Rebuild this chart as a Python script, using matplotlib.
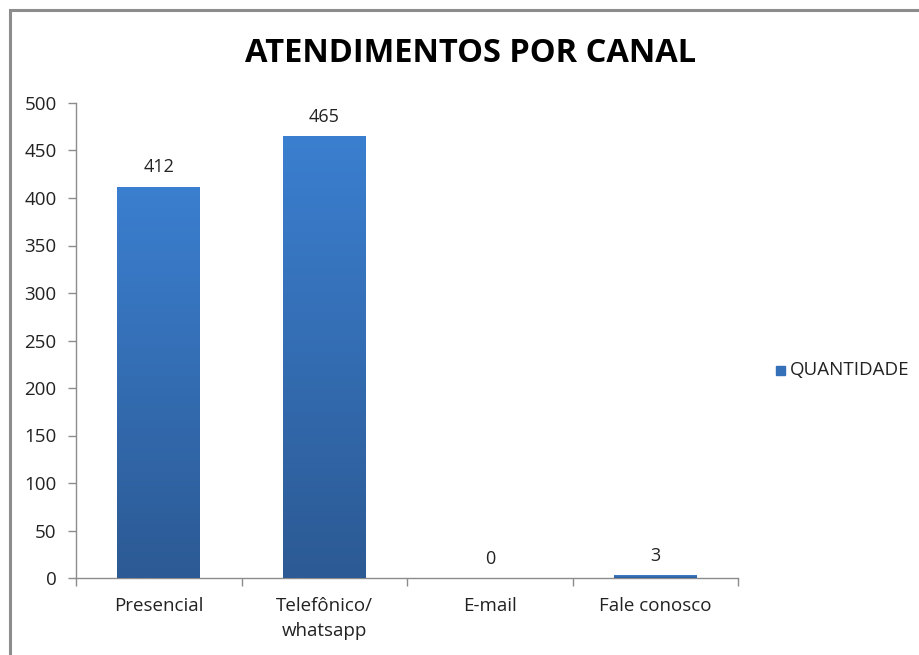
import numpy as np
import matplotlib.pyplot as plt
from matplotlib.colors import LinearSegmentedColormap
from matplotlib.patches import Rectangle

categorias = ["Presencial", "Telefônico/\nwhatsapp", "E-mail", "Fale conosco"]
quantidade = [412, 465, 0, 3]
yticks = [0, 50, 100, 150, 200, 250, 300, 350, 400, 450, 500]

plt.rcParams['font.family'] = ['Open Sans', 'DejaVu Sans']

fig = plt.figure(figsize=(9.19, 6.55), dpi=100)
ax = fig.add_axes([76 / 919, 1 - 578 / 655, 662 / 919, 475 / 655])

# moldura externa do gráfico (estilo Excel)
fig.patches.append(Rectangle((10 / 919, -0.1), 1.1, 1 - 10 / 655 + 0.1,
                             transform=fig.transFigure, fill=False,
                             edgecolor='#8c8c8c', linewidth=2.2))

x = np.arange(len(categorias))
bars = ax.bar(x, quantidade, width=0.5, color='#3a7dcc', zorder=2)

# gradiente vertical nas barras
cmap = LinearSegmentedColormap.from_list('g', ['#2c5a94', '#3b7fd0'])
grad = np.linspace(0, 1, 256).reshape(-1, 1)
for b in bars:
    h = b.get_height()
    if h <= 0:
        continue
    im = ax.imshow(grad, cmap=cmap, aspect='auto', origin='lower',
                   extent=[b.get_x(), b.get_x() + b.get_width(), 0, h], zorder=3)
    im.set_clip_path(b)

for xi, v in zip(x, quantidade):
    ax.text(xi, v + 11, str(v), ha='center', va='bottom', fontsize=13, color='#222222')

ax.set_xlim(-0.5, len(categorias) - 0.5)
ax.set_ylim(0, 500)
ax.set_yticks(yticks)
ax.set_xticks(x)
ax.set_xticklabels(categorias, fontsize=13.5, color='#222222', linespacing=1.45)
ax.set_xticks(np.arange(-0.5, len(categorias)), minor=True)
ax.tick_params(axis='x', which='major', length=0, pad=14)
ax.tick_params(axis='x', which='minor', length=6, color='#8c8c8c', width=1)
ax.tick_params(axis='y', length=6, color='#8c8c8c', width=1, labelsize=13.5,
               labelcolor='#222222', pad=8)

for s in ['top', 'right']:
    ax.spines[s].set_visible(False)
for s in ['left', 'bottom']:
    ax.spines[s].set_color('#8c8c8c')
    ax.spines[s].set_linewidth(1)

fig.text(471 / 919, 1 - 53 / 655, "ATENDIMENTOS POR CANAL", ha='center', va='center',
         fontsize=23.5, fontweight='bold', color='black')

# legenda
fig.patches.append(Rectangle((776 / 919, 1 - 375 / 655), 9 / 919, 9 / 655,
                             transform=fig.transFigure, color='#3470b8'))
fig.text(790 / 919, 1 - 370 / 655, "QUANTIDADE", ha='left', va='center',
         fontsize=13.5, color='#222222')

fig.savefig('out.png', dpi=100)
